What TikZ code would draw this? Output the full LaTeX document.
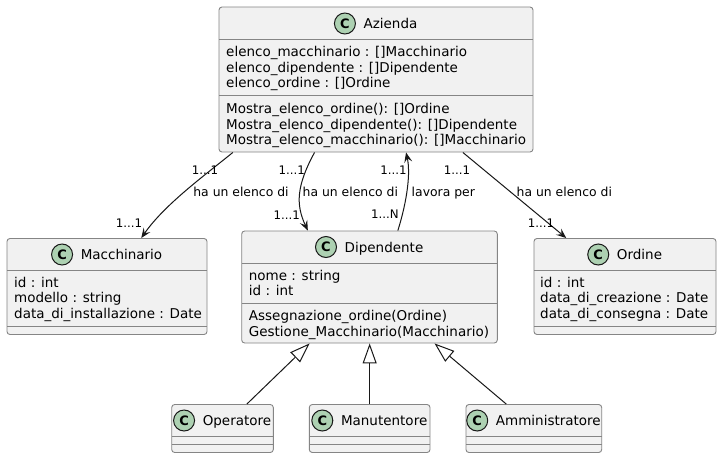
\documentclass[tikz,border=0pt]{standalone}
\usepackage{fontspec}
\setmainfont{DejaVu Sans}
\usetikzlibrary{arrows.meta}
\definecolor{boxfill}{HTML}{F1F1F1}
\definecolor{ink}{HTML}{181818}
\definecolor{edge}{HTML}{858585}
\definecolor{spot}{HTML}{ADD1B2}
\begin{document}
\begin{tikzpicture}[x=1pt,y=-1pt,
  cls/.style={draw=edge, line width=0.9pt, fill=boxfill, rounded corners=3pt, inner sep=0pt, rectangle},
  txt/.style={anchor=west, inner sep=0pt, font=\fontsize{13.5}{15.6}\selectfont, text height=10.3pt, text depth=0pt},
  cname/.style={inner sep=0pt, font=\fontsize{13.5}{15.6}\selectfont, text height=10.3pt, text depth=0pt},
  spotc/.style={circle, draw=ink, line width=1pt, fill=spot, minimum size=21pt, inner sep=0pt, font=\fontsize{13}{13}\bfseries\selectfont},
  lbl/.style={inner sep=0pt, font=\fontsize{12.4}{13}\selectfont, text height=9.4pt, text depth=0pt},
  mult/.style={inner sep=0pt, font=\fontsize{11.8}{13}\selectfont, text height=9pt, text depth=0pt},
  assoc/.style={draw=ink, line width=1pt, -{Stealth[length=10pt,width=8pt,inset=4pt]}},
  inherit/.style={draw=ink, line width=1pt, -{Triangle[open,length=20pt,width=14pt,fill=white]}},
  compline/.style={draw=edge, line width=0.9pt}
]
\fill[white] (0,0) rectangle (722,458);
\useasboundingbox (0,0) rectangle (722,458);

% ---------- Azienda ----------
\node[cls, minimum width=314pt, minimum height=145pt] (az) at (376,79.5) {};
\draw[compline] (219,39.3) -- (533,39.3);
\draw[compline] (219,95.7) -- (533,95.7);
\node[cname] (azn) at (390.5,23.5) {Azienda};
\node[spotc] (azc) at ([xshift=-18.5pt]azn.west) {C};
\node[txt] (az1) at (226,51.5) {elenco\_macchinario : []Macchinario};
\node[txt] (az2) at (226,67.1) {elenco\_dipendente : []Dipendente};
\node[txt] (az3) at (226,82.7) {elenco\_ordine : []Ordine};
\node[txt] (az4) at (226,108.3) {Mostra\_elenco\_ordine(): []Ordine};
\node[txt] (az5) at (226,123.9) {Mostra\_elenco\_dipendente(): []Dipendente};
\node[txt] (az6) at (226,139.5) {Mostra\_elenco\_macchinario(): []Macchinario};

% ---------- Macchinario ----------
\node[cls, minimum width=200pt, minimum height=96pt] (ma) at (107,286.5) {};
\draw[compline] (7,270.5) -- (207,270.5);
\draw[compline] (7,326.5) -- (207,326.5);
\node[cname] (man) at (121.5,254.5) {Macchinario};
\node[spotc] (mac) at ([xshift=-18.5pt]man.west) {C};
\node[txt] (ma1) at (14,282.2) {id : int};
\node[txt] (ma2) at (14,297.8) {modello : string};
\node[txt] (ma3) at (14,313.4) {data\_di\_installazione : Date};

% ---------- Dipendente ----------
\node[cls, minimum width=255.6pt, minimum height=112pt] (dip) at (369.5,287) {};
\draw[compline] (241.7,263) -- (497.3,263);
\draw[compline] (241.7,303) -- (497.3,303);
\node[cname] (dipn) at (384,247) {Dipendente};
\node[spotc] (dipc) at ([xshift=-18.5pt]dipn.west) {C};
\node[txt] (dip1) at (248.7,275.2) {nome : string};
\node[txt] (dip2) at (248.7,290.8) {id : int};
\node[txt] (dip3) at (248.7,315.6) {Assegnazione\_ordine(Ordine)};
\node[txt] (dip4) at (248.7,331.2) {Gestione\_Macchinario(Macchinario)};

% ---------- Ordine ----------
\node[cls, minimum width=182pt, minimum height=96pt] (ord) at (625,286.5) {};
\draw[compline] (534,270.5) -- (716,270.5);
\draw[compline] (534,326.5) -- (716,326.5);
\node[cname] (ordn) at (639.5,254.5) {Ordine};
\node[spotc] (ordc) at ([xshift=-18.5pt]ordn.west) {C};
\node[txt] (ord1) at (540,282.2) {id : int};
\node[txt] (ord2) at (540,297.8) {data\_di\_creazione : Date};
\node[txt] (ord3) at (540,313.4) {data\_di\_consegna : Date};

% ---------- Operatore ----------
\node[cls, minimum width=101.6pt, minimum height=48pt] (op) at (222.5,428.5) {};
\draw[compline] (171.7,436.5) -- (273.3,436.5);
\draw[compline] (171.7,444.5) -- (273.3,444.5);
\node[cname] (opn) at (237,420.5) {Operatore};
\node[spotc] (opc) at ([xshift=-18.5pt]opn.west) {C};

% ---------- Manutentore ----------
\node[cls, minimum width=120.7pt, minimum height=48pt] (mt) at (369.65,428.5) {};
\draw[compline] (309.3,436.5) -- (430,436.5);
\draw[compline] (309.3,444.5) -- (430,444.5);
\node[cname] (mtn) at (384.15,420.5) {Manutentore};
\node[spotc] (mtc) at ([xshift=-18.5pt]mtn.west) {C};

% ---------- Amministratore ----------
\node[cls, minimum width=135.7pt, minimum height=48pt] (am) at (533.85,428.5) {};
\draw[compline] (466,436.5) -- (601.7,436.5);
\draw[compline] (466,444.5) -- (601.7,444.5);
\node[cname] (amn) at (548.35,420.5) {Amministratore};
\node[spotc] (amc) at ([xshift=-18.5pt]amn.west) {C};

% ---------- associations ----------
\draw[assoc] ([xshift=14.3pt]az.south west) .. controls +(-28.3,23) and +(23.3,-33.5) .. ([xshift=134.7pt]ma.north west);
\draw[assoc] ([xshift=96pt]az.south west) .. controls +(-18,33) and +(-12.3,-26) .. ([xshift=66.6pt]dip.north west);
\draw[assoc] ([xshift=156.6pt]dip.north west) .. controls +(9.7,-31) and +(4.5,20) .. ([xshift=187.5pt]az.south west);
\draw[assoc] ([xshift=244.3pt]az.south west) -- ([xshift=32.7pt]ord.north west);

% ---------- inheritance ----------
\draw[inherit] ([xshift=75.6pt]op.north west) -- ([xshift=68.3pt]dip.south west);
\draw[inherit] (mt.north) -- (mt.north |- dip.south);
\draw[inherit] ([xshift=40.7pt]am.north west) -- ([xshift=193.3pt]dip.south west);

% ---------- labels ----------
\node[mult] (m1a) at (205,169.5) {1...1};
\node[lbl]  (l1)  at (241,191.5) {ha un elenco di};
\node[mult] (m1b) at (129,222.5) {1...1};

\node[mult] (m2a) at (291.7,169.5) {1...1};
\node[lbl]  (l2)  at (350.3,191.5) {ha un elenco di};
\node[mult] (m2b) at (286.7,215) {1...1};

\node[mult] (m3a) at (393.5,169.5) {1...1};
\node[lbl]  (l3)  at (443.3,191.5) {lavora per};
\node[mult] (m3b) at (385,214) {1...N};

\node[mult] (m4a) at (457,169.5) {1...1};
\node[lbl]  (l4)  at (564.3,191.5) {ha un elenco di};
\node[mult] (m4b) at (541,222.7) {1...1};
\end{tikzpicture}
\end{document}
